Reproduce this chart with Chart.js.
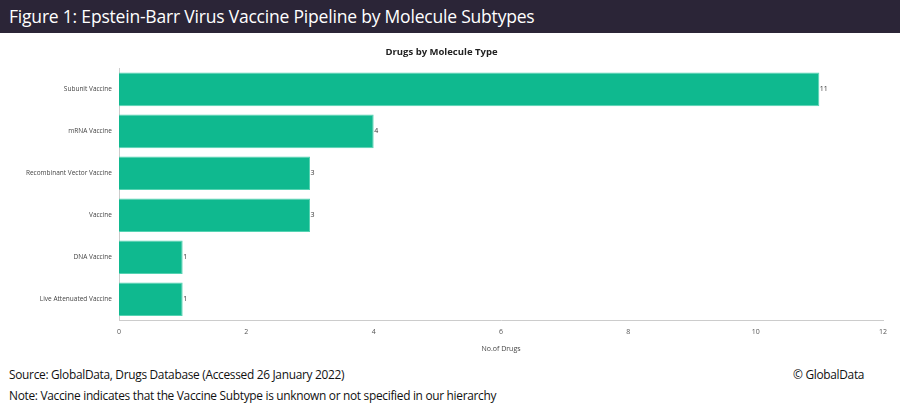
<!DOCTYPE html>
<html><head><meta charset="utf-8">
<script src="https://cdn.jsdelivr.net/npm/chart.js@4/dist/chart.umd.min.js"></script>
<style>
html,body{margin:0;padding:0;background:#fff;width:900px;height:409px;overflow:hidden;font-family:"Open Sans",sans-serif;}
#hdr{position:absolute;left:0;top:0;width:900px;height:33px;background:#2b2537;color:#fff;font-size:17.5px;line-height:33px;padding-left:9px;box-sizing:border-box;font-family:"Open Sans",sans-serif;letter-spacing:-0.2px}
#wrap{position:absolute;left:0;top:33px;width:900px;height:328px;}
.ft{position:absolute;font-size:11.9px;color:#111;font-family:"Open Sans",sans-serif;letter-spacing:-0.3px}
</style></head><body>
<div id="hdr">Figure 1: Epstein-Barr Virus Vaccine Pipeline by Molecule Subtypes</div>
<div id="wrap"><canvas id="c" width="900" height="328"></canvas></div>
<div class="ft" style="left:9px;top:366px">Source: GlobalData, Drugs Database (Accessed 26 January 2022)</div>
<div class="ft" style="left:793px;top:366px">© GlobalData</div>
<div class="ft" style="left:9px;top:387px">Note: Vaccine indicates that the Vaccine Subtype is unknown or not specified in our hierarchy</div>
<script>
const categories = ["Subunit Vaccine","mRNA Vaccine","Recombinant Vector Vaccine","Vaccine","DNA Vaccine","Live Attenuated Vaccine"];
const drugCounts = [11,4,3,3,1,1];
const xTicks = [0,2,4,6,8,10,12];

const valueLabels = {
  id:'valueLabels',
  afterDatasetsDraw(chart){
    const ctx=chart.ctx;
    const meta=chart.getDatasetMeta(0);
    ctx.save();
    ctx.font='7px "Open Sans", sans-serif';
    ctx.fillStyle='#333';
    ctx.textAlign='left';ctx.textBaseline='middle';
    meta.data.forEach((bar,i)=>{
      ctx.fillText(String(drugCounts[i]), bar.x+0.5, bar.y);
    });
    ctx.restore();
  }
};

new Chart(document.getElementById('c'),{
  type:'bar',
  data:{labels:categories,datasets:[{data:drugCounts,backgroundColor:'#0fb98f',borderColor:'#55d3b2',borderWidth:1,categoryPercentage:0.8,barPercentage:1}]},
  options:{
    indexAxis:'y',responsive:false,animation:false,
    layout:{padding:{left:0,right:17,top:0,bottom:1}},
    plugins:{legend:{display:false},tooltip:{enabled:false},
      title:{display:true,text:'Drugs by Molecule Type',color:'#222',font:{family:'"Open Sans", sans-serif',size:9.5,weight:'bold'},padding:{top:14,bottom:10}}},
    scales:{
      x:{min:0,max:12,afterBuildTicks(s){s.ticks=xTicks.map(v=>({value:v}));},
        grid:{display:false,drawTicks:false},border:{display:true,color:'#ccc'},
        ticks:{color:'#555',font:{size:7,family:'"Open Sans", sans-serif'},padding:8,maxRotation:0},
        title:{display:true,text:'No.of Drugs',color:'#444',font:{size:7,family:'"Open Sans", sans-serif'},padding:{top:0,bottom:7}}},
      y:{afterFit(s){s.width=119;},grid:{display:false,drawTicks:false},border:{display:true,color:'#ccc'},
        ticks:{color:'#444',font:{size:6.5,family:'"Open Sans", sans-serif'},padding:7}}
    }
  },
  plugins:[valueLabels]
});
</script>
</body></html>
